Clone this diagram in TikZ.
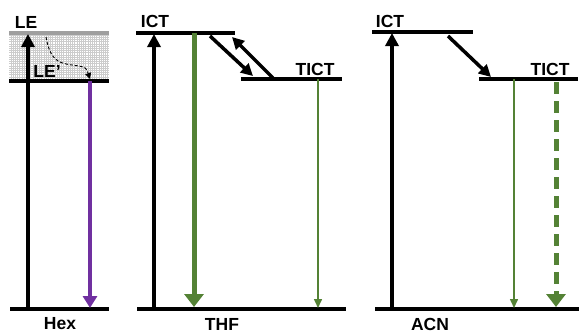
\documentclass[tikz,border=0pt]{standalone}
\usepackage{fontspec}
\setmainfont{Liberation Sans}
\usetikzlibrary{arrows.meta}
\definecolor{ogreen}{HTML}{548235}
\definecolor{opurple}{HTML}{7030A0}
\tikzset{
  level/.style={line width=4pt},
  grayline/.style={line width=3.5pt, gray!75},
  uparrow/.style={line width=3.5pt, -{Triangle[length=13pt,width=13pt]}},
  diagarrow/.style={line width=3.5pt, -{Triangle[length=12pt,width=12pt]}},
  thickgreen/.style={ogreen, line width=5pt, -{Triangle[length=13pt,width=19pt]}},
  thingreen/.style={ogreen, line width=1.5pt, -{Triangle[length=9pt,width=8pt]}},
  purplearrow/.style={opurple, line width=4pt, -{Triangle[length=12pt,width=14pt]}},
  lbl/.style={font=\fontsize{17.5}{20}\selectfont\bfseries, inner sep=0pt}
}
\begin{document}
\begin{tikzpicture}[x=1pt,y=-1pt]
\useasboundingbox (0,0) rectangle (581,333);
% ---------- Hex ----------
\coordinate (hexLEl) at (9,33);
\coordinate (hexLEr) at (109,33);
\coordinate (hexLPl) at (9,81);
\coordinate (hexLPr) at (109,81);
\coordinate (hexGl) at (10,309);
\coordinate (hexGr) at (109,309);
\fill[white] (9,34) rectangle (109,80);
\draw[gray!40, line width=0.7pt, step=2.2pt] (9,34) grid (109,80);
\draw[grayline] (hexLEl) -- (hexLEr);
\draw[level] (hexLPl) -- (hexLPr);
\draw[level] (hexGl) -- (hexGr);
\coordinate (hexUpS) at (28,309);
\coordinate (hexUpE) at (28,34);
\draw[uparrow] (hexUpS) -- (hexUpE);
\coordinate (hexPS) at (90,81);
\coordinate (hexPE) at (90,308);
\draw[purplearrow] (hexPS) -- (hexPE);
\coordinate (hexDS) at (46,37);
\coordinate (hexDE) at (90,79);
\draw[line width=0.9pt, dash pattern=on 3pt off 2pt, -{Triangle[length=6pt,width=6pt]}]
  (hexDS) .. controls (50,58) and (56,63) .. (72,65) .. controls (86,67) .. (hexDE);
\node[lbl] (LE) at (26,22) {LE};
\node[lbl] (LEp) at (47,71) {LE’};
\node[lbl] (hex) at (60,324) {Hex};
% ---------- THF ----------
\coordinate (thfIl) at (136,33);
\coordinate (thfIr) at (235,33);
\coordinate (thfTl) at (241,79);
\coordinate (thfTr) at (342,79);
\coordinate (thfGl) at (137,309);
\coordinate (thfGr) at (346,309);
\draw[level] (thfIl) -- (thfIr);
\draw[level] (thfTl) -- (thfTr);
\draw[level] (thfGl) -- (thfGr);
\coordinate (thfUpS) at (154,309);
\coordinate (thfUpE) at (154,34);
\draw[uparrow] (thfUpS) -- (thfUpE);
\coordinate (thfGS) at (194,33);
\coordinate (thfGE) at (194,307);
\draw[thickgreen] (thfGS) -- (thfGE);
\coordinate (thfDS) at (210,36);
\coordinate (thfDE) at (253,76);
\draw[diagarrow] (thfDS) -- (thfDE);
\coordinate (thfUS) at (273,78);
\coordinate (thfUE) at (232,37);
\draw[diagarrow] (thfUS) -- (thfUE);
\coordinate (thfTS) at (318,79);
\coordinate (thfTE) at (318,308);
\draw[thingreen] (thfTS) -- (thfTE);
\node[lbl] (thfICT) at (155,21) {ICT};
\node[lbl] (thfTICT) at (315,69) {TICT};
\node[lbl] (thf) at (222,324) {THF};
% ---------- ACN ----------
\coordinate (acnIl) at (372,32);
\coordinate (acnIr) at (473,32);
\coordinate (acnTl) at (479,79);
\coordinate (acnTr) at (578,79);
\coordinate (acnGl) at (375,309);
\coordinate (acnGr) at (579,309);
\draw[level] (acnIl) -- (acnIr);
\draw[level] (acnTl) -- (acnTr);
\draw[level] (acnGl) -- (acnGr);
\coordinate (acnUpS) at (392,309);
\coordinate (acnUpE) at (392,33);
\draw[uparrow] (acnUpS) -- (acnUpE);
\coordinate (acnDS) at (448,36);
\coordinate (acnDE) at (491,77);
\draw[diagarrow] (acnDS) -- (acnDE);
\coordinate (acnTS) at (514,79);
\coordinate (acnTE) at (514,308);
\draw[thingreen] (acnTS) -- (acnTE);
\coordinate (acnDaS) at (556,82);
\coordinate (acnDaE) at (556,307);
\draw[thickgreen, dash pattern=on 12pt off 7pt] (acnDaS) -- (acnDaE);
\node[lbl] (acnICT) at (390,21) {ICT};
\node[lbl] (acnTICT) at (550,69) {TICT};
\node[lbl] (acn) at (430,324) {ACN};
\end{tikzpicture}
\end{document}
